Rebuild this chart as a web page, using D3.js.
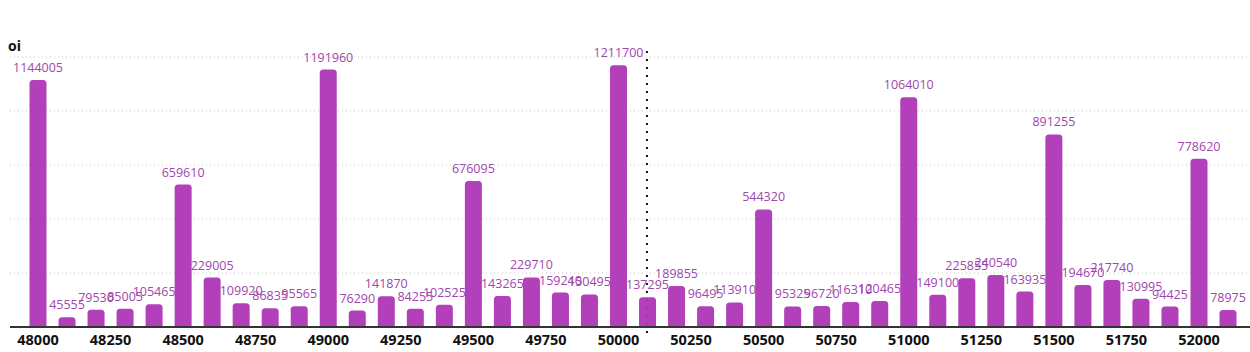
<!DOCTYPE html>
<html>
<head>
<meta charset="utf-8">
<script src="https://cdn.jsdelivr.net/npm/d3@7"></script>
<style>
  body { margin: 0; background: #fff; }
  svg text { font-family: "Open Sans", sans-serif; }
</style>
</head>
<body>
<div id="chart"></div>
<script>
// strikes and open interest
const strikes = [48000, 48100, 48200, 48300, 48400, 48500, 48600, 48700, 48800, 48900,
  49000, 49100, 49200, 49300, 49400, 49500, 49600, 49700, 49800, 49900,
  50000, 50100, 50200, 50300, 50400, 50500, 50600, 50700, 50800, 50900,
  51000, 51100, 51200, 51300, 51400, 51500, 51600, 51700, 51800, 51900,
  52000, 52100];
const oiValues = [1144005, 45555, 79530, 85005, 105465, 659610, 229005, 109920, 86835, 95565,
  1191960, 76290, 141870, 84255, 102525, 676095, 143265, 229710, 159240, 150495,
  1211700, 137295, 189855, 96495, 113910, 544320, 95325, 96720, 116310, 120465,
  1064010, 149100, 225855, 240540, 163935, 891255, 194670, 217740, 130995, 94425,
  778620, 78975];
const xTicks = [48000, 48250, 48500, 48750, 49000, 49250, 49500, 49750, 50000,
  50250, 50500, 50750, 51000, 51250, 51500, 51750, 52000];
const yTicks = [250000, 500000, 750000, 1000000, 1250000];
const spotPrice = 50098;

const width = 1250, height = 352;
const baseY = 327, topY = 57;
const barW = 17;

const svg = d3.select("#chart").append("svg")
    .attr("width", width)
    .attr("height", height);

const x = d3.scaleLinear().domain([48000, 52000]).range([38, 1199]);
const y = d3.scaleLinear().domain([0, 1250000]).range([baseY, topY]);

// dotted grid lines
svg.append("g").selectAll("line")
    .data(yTicks)
    .enter().append("line")
    .attr("x1", 10).attr("x2", width)
    .attr("y1", d => y(d)).attr("y2", d => y(d))
    .attr("stroke", "#c8c8c8")
    .attr("stroke-width", 1)
    .attr("stroke-dasharray", "1,3");

// spot line (sits under the bars)
svg.append("line")
    .attr("x1", x(spotPrice)).attr("x2", x(spotPrice))
    .attr("y1", 51).attr("y2", 337)
    .attr("stroke", "#111")
    .attr("stroke-width", 2)
    .attr("stroke-dasharray", "2,6");

const data = strikes.map((s, i) => ({ strike: s, oi: oiValues[i] }));

// bars with rounded tops
function barPath(d) {
    const x0 = x(d.strike) - barW / 2, x1 = x0 + barW;
    const y0 = y(d.oi), r = 3.5;
    return `M${x0},${baseY} V${y0 + r} Q${x0},${y0} ${x0 + r},${y0} H${x1 - r} Q${x1},${y0} ${x1},${y0 + r} V${baseY} Z`;
}
svg.append("g").selectAll("path")
    .data(data)
    .enter().append("path")
    .attr("d", barPath)
    .attr("fill", "#ad36b6")
    .attr("fill-opacity", 0.95);

// value labels
svg.append("g").selectAll("text")
    .data(data)
    .enter().append("text")
    .attr("x", d => x(d.strike))
    .attr("y", d => y(d.oi) - 8)
    .attr("text-anchor", "middle")
    .style("font-size", "12.5px")
    .attr("fill", "#a046ac")
    .text(d => d.oi);

// x axis
svg.append("line")
    .attr("x1", 10).attr("x2", width)
    .attr("y1", baseY).attr("y2", baseY)
    .attr("stroke", "#333")
    .attr("stroke-width", 2);

svg.append("g").selectAll("text")
    .data(xTicks)
    .enter().append("text")
    .attr("x", d => x(d))
    .attr("y", 345)
    .attr("text-anchor", "middle")
    .style("font-size", "14.5px")
    .style("font-weight", "bold")
    .attr("fill", "#111")
    .text(d => d);

// y title
svg.append("text")
    .attr("x", 8)
    .attr("y", 51)
    .style("font-size", "14px")
    .style("font-weight", "bold")
    .attr("fill", "#111")
    .text("oi");
</script>
</body>
</html>
